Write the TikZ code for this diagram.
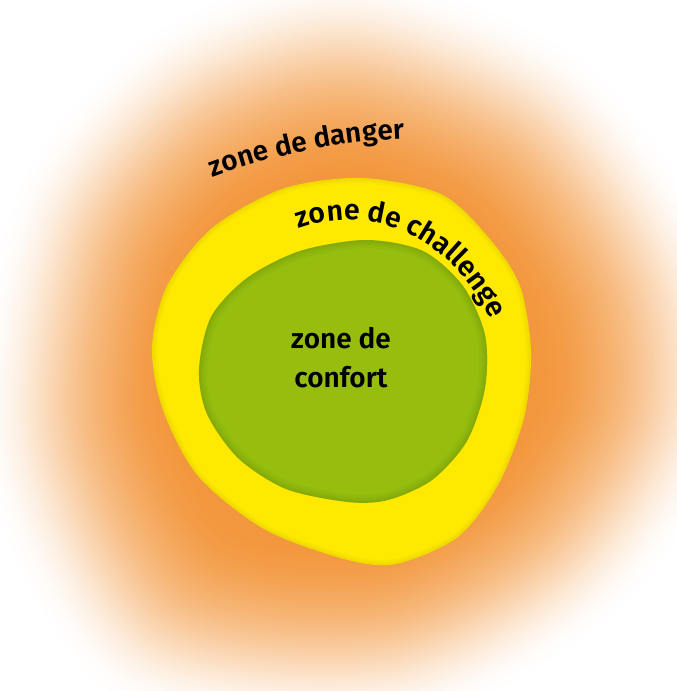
\documentclass[tikz,border=0pt]{standalone}
\usepackage{fontspec}
\IfFontExistsTF{Fira Sans SemiBold}
  {\newfontfamily\zf{Fira Sans SemiBold}}
  {\newfontfamily\zf{Fira Sans}[FakeBold=2]}
\usetikzlibrary{decorations.text}
\definecolor{dorange}{RGB}{242,149,58}
\definecolor{zyellow}{RGB}{255,233,0}
\definecolor{zyshade}{RGB}{190,165,0}
\definecolor{zgreen}{RGB}{151,190,15}
\definecolor{zgshade}{RGB}{95,130,0}
\newcommand\outerblob{plot[smooth cycle] coordinates {(0,-358) (205,-282) (330,-110) (345,60) (235,222) (40,322) (-215,292) (-332,80) (-300,-160) (-175,-305)}}
\newcommand\yellowblob{plot[smooth cycle] coordinates {(361,178) (441,194) (489,238) (520,286) (531,352) (524,418) (498,485) (458,537) (396,564) (344,559) (264,529) (198,476) (163,410) (152,348) (167,286) (211,229) (282,189)}}
\newcommand\greenblob{plot[smooth cycle] coordinates {(366,240) (423,251) (463,286) (485,335) (485,388) (467,441) (432,480) (388,500) (348,502) (286,489) (238,458) (207,414) (199,370) (211,317) (247,278) (300,251)}}
\tikzset{
  zonetext/.style={font=\zf\fontsize{28}{39}\selectfont, text=black, align=center},
}
\begin{document}
\begin{tikzpicture}[x=1pt,y=-1pt]
\useasboundingbox (0,0) rectangle (677,691);
\fill[white] (0,0) rectangle (677,691);
% danger zone: soft orange glow built from opaque layers, outside in
\foreach \k in {0,...,114}{
  \pgfmathsetmacro\s{1.12-\k*0.005}
  \pgfmathsetmacro\p{100*(1-exp(-(9*(1.126-\s)^2+30*max(0.72-\s,0)^2)))}
  \colorlet{glowc}{dorange!\p!white}
  \begin{scope}[shift={(350,370)}, scale=\s]
    \fill[glowc] \outerblob;
  \end{scope}
}
% challenge zone
\fill[zyellow] \yellowblob;
\begin{scope}
  \clip \yellowblob;
  \foreach \w in {10,6,3}{
    \draw[zyshade, line width=\w pt, opacity=0.08] \yellowblob;
  }
\end{scope}
% comfort zone
\fill[zgreen] \greenblob;
\begin{scope}
  \clip \greenblob;
  \foreach \w in {16,10,6,3}{
    \draw[zgshade, line width=\w pt, opacity=0.09] \greenblob;
  }
\end{scope}
% labels
\path[decorate, decoration={text along path, text align=center,
  text={|\zf\fontsize{28}{34}\selectfont|zone de danger}}]
  (200,182) .. controls (255,160) and (330,140) .. (418,138);
\path[decorate, decoration={text along path, text align=center,
  text={|\zf\fontsize{28.5}{34}\selectfont|zone de challenge}}]
  (288,233) .. controls (360,200) and (452,228) .. (496,330);
\node[zonetext] (confort) at (341,358) {zone de\\confort};
\end{tikzpicture}
\end{document}
